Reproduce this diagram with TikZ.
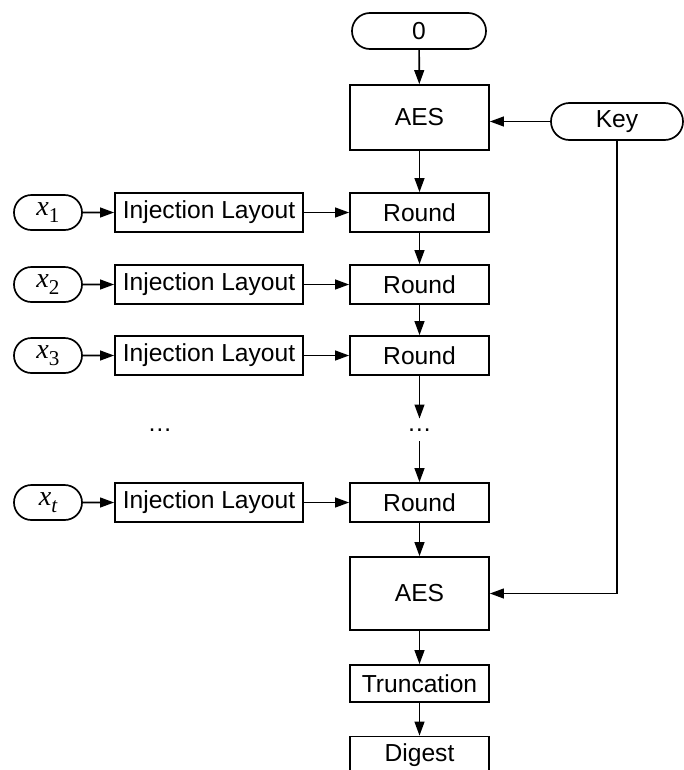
\documentclass[tikz,border=0pt]{standalone}
\usepackage{fontspec}
\setmainfont{Liberation Sans}
\newfontfamily\varfont{Liberation Serif}
\usepackage{tikz}
\usetikzlibrary{arrows.meta}
\usetikzlibrary{shapes.misc}
\newcommand{\invar}[2]{{\varfont\fontsize{20}{22}\selectfont\itshape x}\raisebox{-0.5ex}{\varfont\fontsize{15}{16}\selectfont #2}}
\tikzstyle{BoxBlock}=[rectangle,draw,line width=1.2pt,inner sep=0pt,minimum width=3.475cm,
minimum height=0.975cm,font=\fontsize{17.5}{20}\selectfont]
\tikzstyle{PillInput}=[rounded rectangle,draw,line width=1.2pt,inner sep=0pt,minimum height=0.9cm,
font=\fontsize{17.5}{20}\selectfont]
\tikzstyle{ArrowFlow}=[line width=1.2pt,-{Triangle[length=10pt,width=7pt]}]

\begin{document}
\begin{tikzpicture}[x=0.025cm,y=-0.025cm]
        \useasboundingbox(0,0)rectangle(684,770);
        \node[PillInput,minimum width=3.35cm](zero)at(419,31){0};
        \node[BoxBlock,minimum height=1.625cm](aesA)at(419.5,117.5){AES};
        \node[PillInput,minimum width=3.3cm,minimum height=0.925cm](key)at(617,121.5){Key};
        \node[PillInput,minimum width=1.7cm,minimum height=0.875cm](xa)at(48,212.5){\invar{x}{1}};
        \node[PillInput,minimum width=1.7cm,minimum height=0.875cm](xb)at(48,284.5){\invar{x}{2}};
        \node[PillInput,minimum width=1.7cm,minimum height=0.875cm](xc)at(48,355.5){\invar{x}{3}};
        \node[PillInput,minimum width=1.7cm,minimum height=0.875cm](xt)at(48,502.5){\invar{x}{\itshape t}};
        \node[BoxBlock,minimum width=4.7cm](ia)at(209,212.5){Injection Layout};
        \node[BoxBlock,minimum width=4.7cm](ib)at(209,284.5){Injection Layout};
        \node[BoxBlock,minimum width=4.7cm](ic)at(209,355.5){Injection Layout};
        \node[BoxBlock,minimum width=4.7cm](it)at(209,502.5){Injection Layout};
        \node[BoxBlock](ra)at(419.5,212.5){Round};
        \node[BoxBlock](rb)at(419.5,284.5){Round};
        \node[BoxBlock](rc)at(419.5,355.5){Round};
        \node[BoxBlock](rt)at(419.5,502.5){Round};
        \node[font=\fontsize{17.5}{20}\selectfont](dotsL)at(160,430){\dots};
        \node[font=\fontsize{17.5}{20}\selectfont,inner sep=7pt](dotsR)at(419.5,430){\dots};
        \node[BoxBlock,minimum height=1.825cm](aesB)at(419.5,593.5){AES};
        \node[BoxBlock,minimum height=0.925cm](trunc)at(419.5,683.5){Truncation};
        \node[BoxBlock,minimum height=0.925cm](digest)at(419.5,755){Digest};
        \draw[ArrowFlow](zero)--(aesA);
        \draw[ArrowFlow](key.west)--(key.west-|aesA.east);
        \draw[ArrowFlow](aesA)--(ra);
        \draw[ArrowFlow](ra)--(rb);
        \draw[ArrowFlow](rb)--(rc);
        \draw[ArrowFlow](rc)--(dotsR);
        \draw[ArrowFlow](dotsR)--(rt);
        \draw[ArrowFlow](rt)--(aesB);
        \draw[ArrowFlow](aesB)--(trunc);
        \draw[ArrowFlow](trunc)--(digest);
        \draw[ArrowFlow](key.south)|-(aesB.east);
        \draw[ArrowFlow](xa)--(ia);
        \draw[ArrowFlow](xb)--(ib);
        \draw[ArrowFlow](xc)--(ic);
        \draw[ArrowFlow](xt)--(it);
        \draw[ArrowFlow](ia)--(ra);
        \draw[ArrowFlow](ib)--(rb);
        \draw[ArrowFlow](ic)--(rc);
        \draw[ArrowFlow](it)--(rt);
    \end{tikzpicture}
\end{document}
